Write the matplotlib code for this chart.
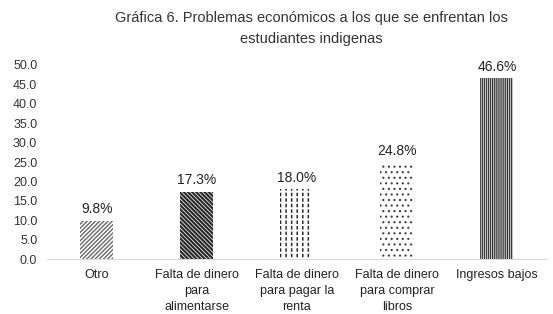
import matplotlib as mpl
import matplotlib.pyplot as plt
import numpy as np

plt.rcParams['font.family'] = ['Liberation Sans', 'DejaVu Sans']

categories = ["Otro", "Falta de dinero\npara\nalimentarse", "Falta de dinero\npara pagar la\nrenta",
              "Falta de dinero\npara comprar\nlibros", "Ingresos bajos"]
values = [9.8, 17.3, 18.0, 24.8, 46.6]
hatches = ['////////', '\\\\\\\\\\\\\\\\', '|||', '...', '||||||||']
edge_colors = ['#6a6a6a', '#2a2a2a', '#2a2a2a', '#404040', '#3a3a3a']
hatch_lw = [1.0, 1.6, 1.1, 0.8, 1.0]

fig = plt.figure(figsize=(5.53, 3.14), dpi=100)
ax = fig.add_axes([0.085, 0.175, 0.904, 0.618])

x = np.arange(len(categories))
for xi, v, h, ec, lw in zip(x, values, hatches, edge_colors, hatch_lw):
    with mpl.rc_context({'hatch.linewidth': lw, 'hatch.color': ec}):
        b = ax.bar(xi, v, width=0.33, color='white', edgecolor=ec, linewidth=0, hatch=h)[0]
        if hasattr(b, 'set_hatch_linewidth'):
            b.set_hatch_linewidth(lw)
    if xi == 2:
        # white horizontal breaks turn the vertical lines into dashes
        with mpl.rc_context({'hatch.linewidth': 1.5}):
            b2 = ax.bar(xi, v, width=0.33, color='none', edgecolor='white', linewidth=0, hatch='---')[0]
            if hasattr(b2, 'set_hatch_linewidth'):
                b2.set_hatch_linewidth(1.5)

for xi, v in zip(x, values):
    ax.text(xi, v + 1.2, f"{v:.1f}%", ha='center', va='bottom', fontsize=10, color='#222222')

ax.set_xlim(-0.5, len(categories) - 0.5)
ax.set_ylim(0, 50)
ticks = np.arange(0, 50.1, 5)
ax.set_yticks(ticks)
ax.set_yticklabels([f"{t:.1f}" for t in ticks], fontsize=9, color='#333333')
ax.set_xticks(x)
ax.set_xticklabels(categories, fontsize=9, color='#222222', linespacing=1.45)
ax.tick_params(length=0, pad=7)
for s in ['top', 'right', 'left']:
    ax.spines[s].set_visible(False)
ax.spines['bottom'].set_color('#d9d9d9')

fig.text(0.563, 0.965, "Gráfica 6. Problemas económicos a los que se enfrentan los\nestudiantes indigenas",
         ha='center', va='top', fontsize=10.5, color='#333333', linespacing=1.65)

fig.savefig('out.png', dpi=100)
